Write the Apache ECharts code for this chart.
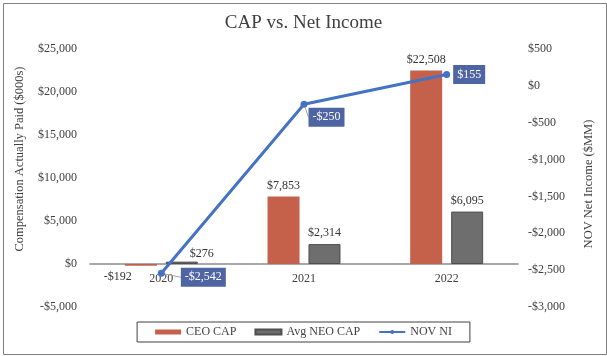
<!DOCTYPE html>
<html>
<head>
<meta charset="utf-8">
<script src="https://cdn.jsdelivr.net/npm/echarts@6/dist/echarts.min.js"></script>
<style>html,body{margin:0;padding:0;background:#fff;}#c{width:607px;height:356px;}</style>
</head>
<body>
<div id="c"></div>
<script>
var categories = ['2020', '2021', '2022'];
var ceoCap = [-192, 7853, 22508];
var neoCap = [276, 2314, 6095];
var novNI = [-2542, -250, 155];
var leftTicks = { min: -5000, max: 25000, interval: 5000 };
var rightTicks = { min: -3000, max: 500, interval: 500 };

var FONT = "'Liberation Serif', 'Times New Roman', serif";
function money(v) {
  var s = Math.abs(v).toString().replace(/\B(?=(\d{3})+(?!\d))/g, ',');
  return (v < 0 ? '-$' : '$') + s;
}

// label placement tweaks (style, not data)
var ceoLabelTweak = [{ position: 'bottom', offset: [-23, 0] }, {}, {}];
var neoLabelTweak = [{ offset: [20, 3] }, {}, {}];
var niLabelTweak = [
  { dx: 12, dy: 4, line: true },
  { dx: -3, dy: 13, line: true },
  { dx: -1, dy: 0, line: false }
];

var chart = echarts.init(document.getElementById('c'), null, { renderer: 'canvas' });
var option = {
  animation: false,
  textStyle: { fontFamily: FONT },
  title: {
    text: 'CAP vs. Net Income', left: 'center', top: 9,
    textStyle: { fontFamily: FONT, fontSize: 19, fontWeight: 'normal', color: '#404040' }
  },
  grid: { left: 90, right: 89, top: 49, bottom: 49 },
  legend: {
    top: 322, left: 'center',
    padding: [4, 18, 4, 18],
    borderColor: '#404040', borderWidth: 1,
    itemGap: 18, itemWidth: 26, itemHeight: 5,
    textStyle: { fontFamily: FONT, fontSize: 12, color: '#404040' },
    data: [
      { name: 'CEO CAP', icon: 'rect' },
      { name: 'Avg NEO CAP', icon: 'rect' },
      { name: 'NOV NI' }
    ]
  },
  xAxis: {
    type: 'category', data: categories,
    axisLine: { onZero: true, onZeroAxisIndex: 0, lineStyle: { color: '#8c8c8c', width: 1.5 } },
    axisTick: { show: false },
    axisLabel: { fontFamily: FONT, fontSize: 12, color: '#404040', margin: -34 }
  },
  yAxis: [
    {
      type: 'value', min: leftTicks.min, max: leftTicks.max, interval: leftTicks.interval,
      axisLine: { show: false }, axisTick: { show: false }, splitLine: { show: false },
      axisLabel: { fontFamily: FONT, fontSize: 12, color: '#404040', margin: 13, formatter: money }
    },
    {
      type: 'value', min: rightTicks.min, max: rightTicks.max, interval: rightTicks.interval,
      axisLine: { show: false }, axisTick: { show: false }, splitLine: { show: false },
      axisLabel: { fontFamily: FONT, fontSize: 12, color: '#404040', margin: 10, formatter: money }
    }
  ],
  series: [
    {
      name: 'CEO CAP', type: 'bar', yAxisIndex: 0, barWidth: 32, barGap: '28%',
      itemStyle: { color: '#C5604B' },
      label: { show: true, position: 'top', distance: 5, fontFamily: FONT, fontSize: 12, color: '#333', formatter: function (p) { return money(p.value); } },
      data: ceoCap.map(function (v, i) { return { value: v, label: ceoLabelTweak[i] }; })
    },
    {
      name: 'Avg NEO CAP', type: 'bar', yAxisIndex: 0, barWidth: 32, barGap: '28%',
      itemStyle: { color: '#6E6E6E', borderColor: '#4f4f4f', borderWidth: 1 },
      label: { show: true, position: 'top', distance: 5, fontFamily: FONT, fontSize: 12, color: '#333', formatter: function (p) { return money(p.value); } },
      data: neoCap.map(function (v, i) { return { value: v, label: neoLabelTweak[i] }; })
    },
    {
      name: 'NOV NI', type: 'line', yAxisIndex: 1,
      symbol: 'circle', symbolSize: 7,
      lineStyle: { color: '#4472C4', width: 3 },
      itemStyle: { color: '#4472C4' },
      label: {
        show: true, position: 'right', distance: 4,
        fontFamily: FONT, fontSize: 12, color: '#fff',
        backgroundColor: '#4E64A3', padding: [4, 4, 3, 4],
        formatter: function (p) { return money(p.value); }
      },
      labelLine: { show: true, lineStyle: { color: '#a6a6a6', width: 1 } },
      labelLayout: function (params) {
        var t = niLabelTweak[params.dataIndex];
        return { dx: t.dx, dy: t.dy };
      },
      data: novNI.map(function (v, i) { return { value: v, labelLine: { show: niLabelTweak[i].line } }; })
    }
  ],
  graphic: [
    {
      type: 'rect', left: 1, top: 1, silent: true,
      shape: { width: 603, height: 351 },
      style: { fill: 'none', stroke: '#7f7f7f', lineWidth: 1 }
    },
    {
      type: 'text', x: 20, y: 159, rotation: Math.PI / 2, silent: true,
      style: { text: 'Compensation Actually Paid ($000s)', fontFamily: FONT, fontSize: 12.5, fill: '#404040', align: 'center', verticalAlign: 'middle' }
    },
    {
      type: 'text', x: 589, y: 184, rotation: Math.PI / 2, silent: true,
      style: { text: 'NOV Net Income ($MM)', fontFamily: FONT, fontSize: 12.5, fill: '#404040', align: 'center', verticalAlign: 'middle' }
    }
  ]
};
chart.setOption(option);
</script>
</body>
</html>
